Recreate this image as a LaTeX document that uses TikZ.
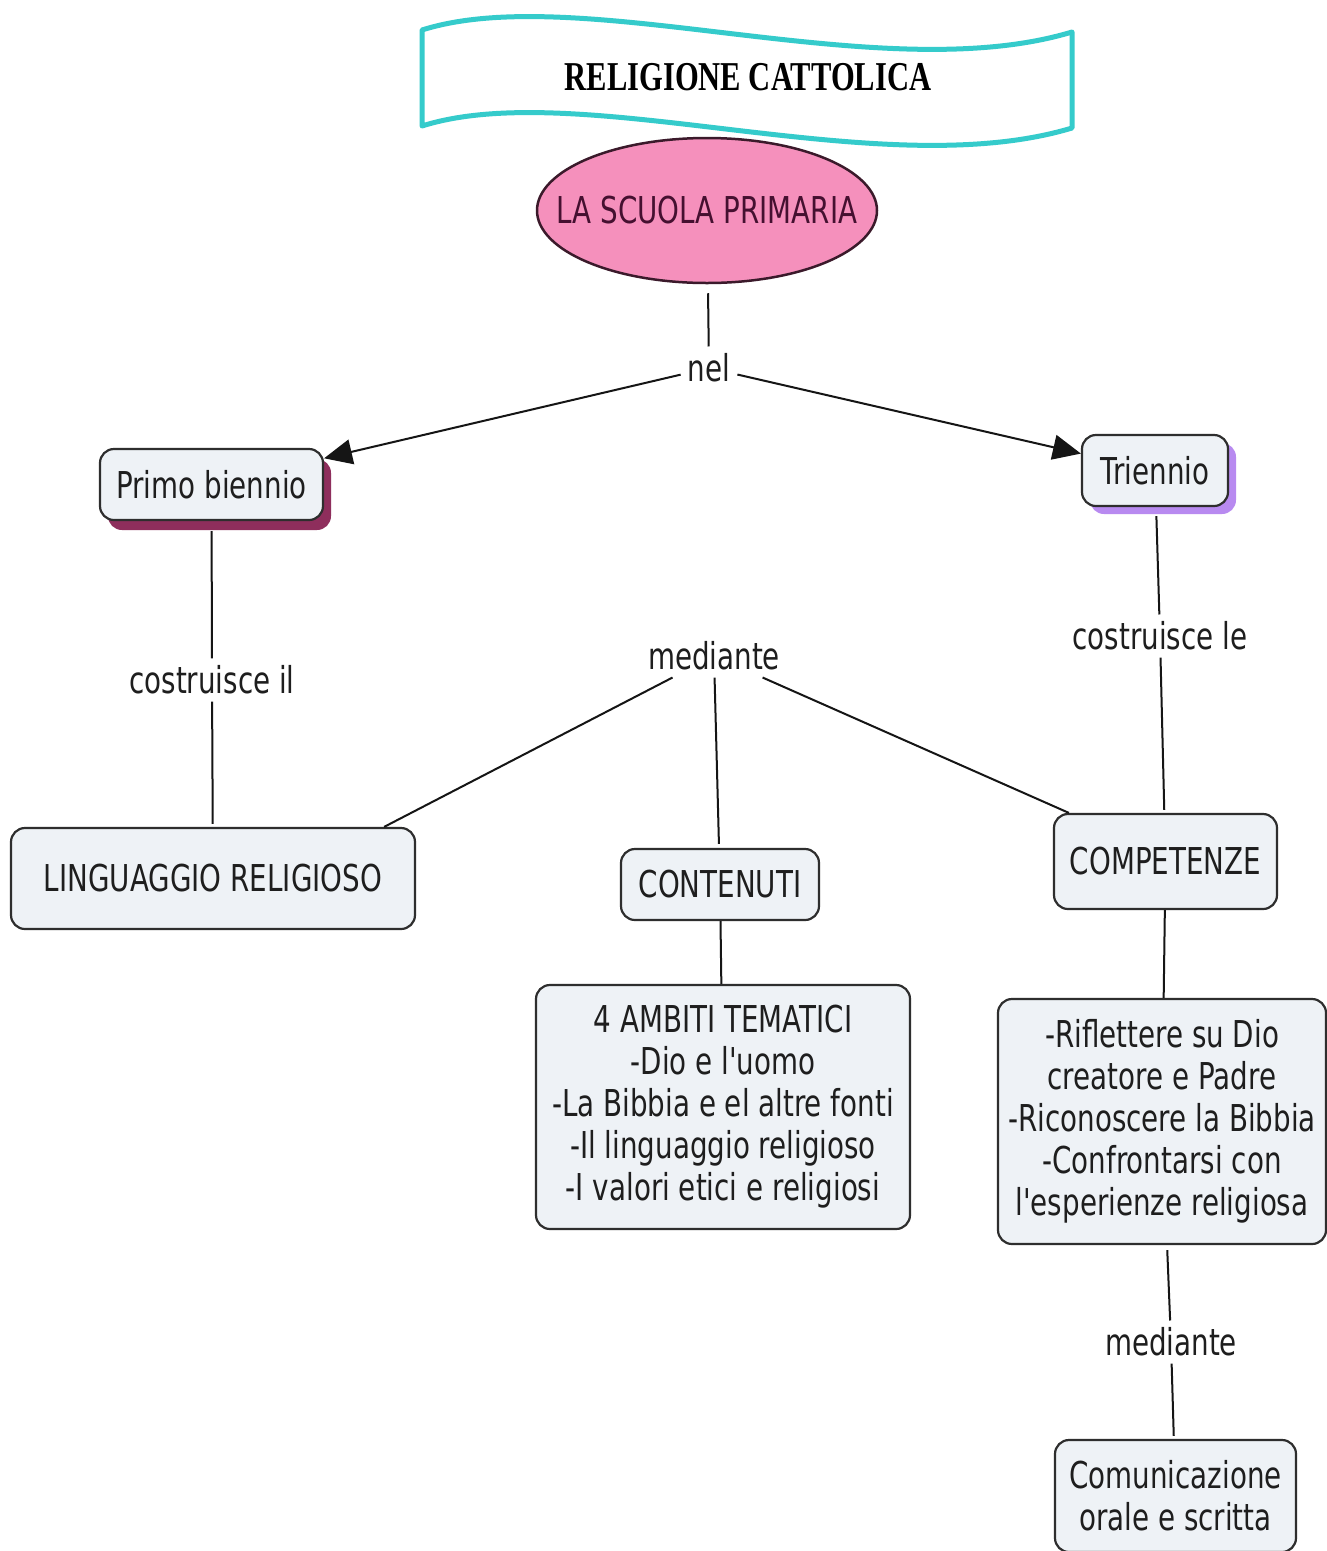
\documentclass[tikz,border=0pt]{standalone}
\usepackage{fontspec}
\setmainfont{DejaVu Sans}[FakeStretch=0.75, Ligatures=TeXOff]
\newfontfamily\titlefont{Liberation Serif Bold}[FakeStretch=0.745]
\usetikzlibrary{arrows.meta,shadows,calc,shapes.geometric}
\definecolor{bannerc}{HTML}{35CBCB}
\definecolor{pinkfill}{HTML}{F590BC}
\definecolor{ellline}{HTML}{3B1A2B}
\definecolor{elltext}{HTML}{451030}
\definecolor{boxfill}{HTML}{EEF2F6}
\definecolor{boxline}{HTML}{2E2E2E}
\definecolor{txt}{HTML}{1E1E1E}
\definecolor{linec}{HTML}{151515}
\definecolor{pbshadow}{HTML}{8E2E5C}
\definecolor{trishadow}{HTML}{B88AF0}
\newcommand{\nodetext}{\fontsize{37}{42}\selectfont}
\begin{document}
\begin{tikzpicture}[x=1pt,y=-1pt,
  box/.style={draw=boxline, line width=2.2pt, fill=boxfill, rounded corners=14pt,
    inner sep=0pt, align=center, text=txt, font=\nodetext},
  lbl/.style={inner sep=7pt, text=txt, font=\nodetext},
  conn/.style={draw=linec, line width=2pt},
  arr/.style={conn, -{Triangle[length=28pt,width=25pt]}}]
\useasboundingbox[fill=white] (0,0) rectangle (1327,1551);

% banner
\draw[bannerc, line width=5pt, line join=round]
  (422,30) .. controls (580,-20) and (880,90) .. (1072,32)
  -- (1072,128) .. controls (880,186) and (580,76) .. (422,126) -- cycle;
\node[font=\titlefont\fontsize{41}{43}\selectfont, text=black] (title) at (748,77) {RELIGIONE CATTOLICA};

% central ellipse
\node[ellipse, draw=ellline, line width=2.5pt, fill=pinkfill, minimum width=340, minimum height=145,
  inner sep=0pt, text=elltext, font=\nodetext] (sp) at (707,210.5) {\makebox[0pt]{LA SCUOLA PRIMARIA}};

% boxes
\node[box, minimum width=223, minimum height=71,
  drop shadow={shadow xshift=8pt, shadow yshift=-10pt, fill=pbshadow, opacity=1}] (pb) at (211.5,484.5) {Primo biennio};
\node[box, minimum width=146, minimum height=71,
  drop shadow={shadow xshift=8pt, shadow yshift=-8pt, fill=trishadow, opacity=1}] (tri) at (1155,470.5) {Triennio};
\node[box, minimum width=404, minimum height=101] (ling) at (213,878.5) {LINGUAGGIO RELIGIOSO};
\node[box, minimum width=198, minimum height=71] (cont) at (720,884.5) {CONTENUTI};
\node[box, minimum width=223, minimum height=95] (comp) at (1165.5,861.5) {COMPETENZE};
\node[box, minimum width=374, minimum height=244] (amb) at (723,1107)
  {4 AMBITI TEMATICI\\-Dio e l'uomo\\-La Bibbia e el altre fonti\\-Il linguaggio religioso\\-I valori etici e religiosi};
\node[box, minimum width=328, minimum height=245] (compl) at (1162,1121.5)
  {-Riflettere su Dio\\creatore e Padre\\-Riconoscere la Bibbia\\-Confrontarsi con\\l'esperienze religiosa};
\node[box, minimum width=241, minimum height=112] (comu) at (1175.5,1496)
  {Comunicazione\\orale e scritta};

% link labels
\node[lbl] (nel) at (709,368) {nel};
\node[lbl] (cil) at (212,680) {costruisce il};
\node[lbl] (med) at (714,656) {mediante};
\node[lbl] (cle) at (1160,636) {costruisce le};
\node[lbl] (med2) at (1171,1342) {mediante};

% connectors
\draw[conn, shorten <=9pt] (sp) -- (nel);
\draw[arr] (nel) -- (pb);
\draw[arr] (nel) -- (tri);
\draw[conn, shorten <=10pt] (pb) -- (cil);
\draw[conn, shorten >=3pt] (cil) -- (ling);
\draw[conn, shorten <=9pt] (tri) -- (cle);
\draw[conn, shorten >=3pt] (cle) -- (comp);
\draw[conn] (med) -- ($(ling.north east)+(-32,0)$);
\draw[conn, shorten >=4pt] (med) -- (cont);
\draw[conn] (med) -- ($(comp.north west)+(16,0)$);
\draw[conn] (cont) -- (amb);
\draw[conn] (comp) -- (compl);
\draw[conn, shorten <=5pt] (compl) -- (med2);
\draw[conn, shorten >=3pt] (med2) -- (comu);
\end{tikzpicture}
\end{document}
